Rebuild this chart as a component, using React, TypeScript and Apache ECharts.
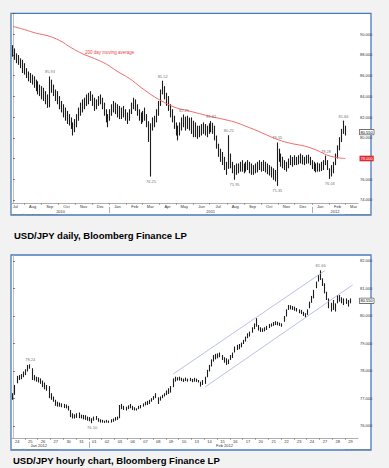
import React, { useEffect, useRef } from 'react';
import * as echarts from 'echarts';

// ---------------- Daily chart: half-week bars (high / low) from 10 Jul 2010 ----------------
const dailyHigh = [
  88.95, 88.64, 88.16, 88.0, 87.68, 87.53, 87.21, 86.73, 86.41, 86.26,
  86.1, 85.94, 85.62, 85.46, 85.14, 84.99, 84.83, 84.51, 84.19, 85.93,
  85.62, 85.14, 84.67, 84.51, 84.03, 83.56, 83.24, 82.92, 82.6, 82.29,
  81.97, 81.49, 81.81, 82.29, 82.92, 83.4, 83.71, 83.87, 84.19, 84.35,
  84.51, 84.19, 83.87, 83.71, 84.03, 84.19, 83.87, 83.4, 82.76, 82.29,
  82.76, 83.24, 83.56, 83.4, 83.24, 83.08, 82.92, 83.08, 82.76, 82.45,
  82.76, 83.4, 83.87, 83.71, 83.24, 82.76, 82.45, 82.6, 82.92, 82.29,
  81.6, 81.4, 81.97, 82.13, 82.76, 83.56, 84.67, 85.52, 84.99, 84.35,
  84.03, 83.24, 82.76, 82.13, 81.49, 81.18, 81.49, 81.97, 82.25, 82.05,
  82.13, 81.95, 81.97, 81.65, 81.49, 81.17, 81.17, 81.33, 81.49, 81.33,
  81.17, 81.4, 81.62, 81.45, 81.17, 80.22, 79.43, 78.95, 78.63, 78.16,
  77.68, 80.25, 78.48, 77.68, 77.36, 77.52, 77.52, 77.68, 77.84, 77.52,
  77.68, 77.84, 77.68, 77.52, 77.36, 77.52, 77.68, 77.84, 77.68, 77.84,
  77.68, 77.52, 77.36, 77.21, 77.05, 76.89, 79.55, 78.95, 78.48, 78.16,
  77.84, 77.68, 78.0, 78.32, 78.16, 78.32, 78.16, 78.32, 78.48, 78.32,
  78.16, 78.32, 78.38, 78.16, 77.84, 77.68, 77.52, 77.62, 77.52, 77.68,
  77.84, 78.28, 77.84, 77.05, 77.36, 77.68, 78.48, 79.27, 80.06, 80.86,
  81.66, 81.17,
];
const dailyLow = [
  87.84, 87.53, 87.21, 87.05, 86.73, 86.26, 86.1, 85.78, 85.46, 85.3,
  85.14, 84.83, 84.51, 84.19, 84.03, 83.71, 83.56, 83.24, 82.9, 82.95,
  84.35, 84.03, 83.56, 83.24, 82.76, 82.45, 81.97, 81.65, 81.33, 81.18,
  80.86, 80.22, 80.54, 81.02, 81.65, 82.13, 82.45, 82.76, 83.08, 83.24,
  83.56, 83.08, 82.6, 82.76, 83.08, 83.24, 82.76, 82.13, 81.49, 81.02,
  81.65, 82.13, 82.45, 82.29, 81.97, 81.81, 81.81, 81.97, 81.65, 81.33,
  81.65, 82.29, 82.76, 82.6, 82.13, 81.65, 81.33, 81.49, 81.65, 81.02,
  79.6, 76.25, 80.7, 81.02, 81.49, 82.13, 83.08, 84.19, 83.71, 83.08,
  82.6, 81.97, 81.49, 80.86, 80.22, 79.75, 80.22, 80.7, 81.02, 80.7,
  80.86, 80.7, 80.38, 80.06, 80.06, 79.9, 80.06, 80.22, 80.38, 80.22,
  80.06, 80.38, 80.54, 80.38, 79.75, 78.95, 78.16, 77.68, 77.36, 76.89,
  76.42, 77.0, 77.05, 76.57, 75.95, 76.42, 76.57, 76.73, 76.73, 76.57,
  76.73, 76.89, 76.57, 76.42, 76.42, 76.57, 76.66, 76.89, 76.73, 76.79,
  76.66, 76.48, 76.35, 76.16, 75.94, 75.78, 75.35, 77.68, 77.21, 77.05,
  76.89, 76.73, 77.05, 77.36, 77.21, 77.36, 77.36, 77.43, 77.52, 77.43,
  77.36, 77.49, 77.52, 77.36, 76.98, 76.79, 76.66, 76.73, 76.73, 76.79,
  76.89, 77.36, 76.89, 76.03, 76.26, 76.57, 77.36, 78.0, 78.79, 79.59,
  80.38, 80.22,
];
// 200 day moving average: [bar index, value]
const ma200: [number, number][] = [
  [0, 90.76], [6, 90.45], [12, 90.1], [18, 89.85], [24, 89.4], [30, 88.7],
  [36, 88.1], [42, 87.65], [48, 87.12], [54, 86.38], [60, 85.72], [66, 84.85],
  [72, 84.05], [78, 83.4], [84, 82.9], [90, 82.62], [96, 82.33], [102, 82.05],
  [108, 81.8], [114, 81.52], [120, 81.1], [126, 80.65], [132, 80.15], [138, 79.71],
  [144, 79.42], [150, 79.2], [156, 78.82], [162, 78.3], [168, 78.05], [171, 78.0],
];
const dailyMarks = [
  { i: 19, side: 'high' }, { i: 77, side: 'high' }, { i: 71, side: 'low' },
  { i: 88, side: 'high' }, { i: 102, side: 'high' }, { i: 111, side: 'high' },
  { i: 114, side: 'low' }, { i: 136, side: 'high' }, { i: 136, side: 'low' },
  { i: 161, side: 'high' }, { i: 163, side: 'low' }, { i: 170, side: 'high' },
];
const monthNames = ['Jan', 'Feb', 'Mar', 'Apr', 'May', 'Jun', 'Jul', 'Aug', 'Sep', 'Oct', 'Nov', 'Dec'];
const dailyYears = [2010, 2011, 2012];
const dailyYTicks = [74, 76, 78, 80, 82, 84, 86, 88, 90, 92];
const dailyYLabels = [74, 76, 80, 82, 84, 86, 88, 90];
const lastPrice = 80.55;

// ---------------- Hourly chart: 4-hour bars, 24 Jan – 29 Feb 2012 ----------------
const hourlyDays = ['24', '25', '26', '27', '30', '31', '01', '02', '03', '06', '07', '08', '09', '10',
  '13', '14', '15', '16', '17', '20', '21', '22', '23', '24', '27', '28', '29'];
const barsPerDay = 6;
const hourlyHigh = [
  77.19, 77.49, 77.82, 77.85, 77.89, 77.98, 78.06, 78.22, 78.24, 78.1,
  77.85, 77.79, 77.77, 77.73, 77.65, 77.58, 77.49, 77.45, 77.19, 77.07,
  76.95, 76.88, 76.85, 76.82, 76.8, 76.78, 76.73, 76.58, 76.46, 76.42,
  76.46, 76.49, 76.41, 76.4, 76.39, 76.34, 76.32, 76.28, 76.34, 76.36,
  76.28, 76.24, 76.22, 76.19, 76.22, 76.19, 76.24, 76.27, 76.32, 76.34,
  76.76, 76.8, 76.73, 76.7, 76.75, 76.8, 76.73, 76.68, 76.64, 76.73,
  76.76, 76.82, 76.88, 76.91, 76.95, 77.01, 77.09, 77.19, 77.04, 77.07,
  77.13, 77.19, 77.29, 77.37, 77.45, 77.73, 77.79, 77.77, 77.79, 77.75,
  77.72, 77.76, 77.72, 77.75, 77.71, 77.75, 77.72, 77.67, 77.61, 77.67,
  77.79, 78.04, 78.22, 78.42, 78.58, 78.62, 78.64, 78.67, 78.58, 78.5,
  78.46, 78.42, 78.58, 78.67, 78.89, 78.95, 78.98, 79.03, 79.13, 79.25,
  79.37, 79.43, 79.59, 79.73, 79.92, 79.67, 79.59, 79.55, 79.59, 79.64,
  79.71, 79.73, 79.78, 79.81, 79.79, 79.76, 79.73, 80.0, 80.24, 80.4,
  80.39, 80.36, 80.34, 80.29, 80.24, 80.22, 80.15, 80.1, 80.24, 80.52,
  80.73, 80.95, 81.25, 81.49, 81.66, 81.37, 81.19, 80.88, 80.64, 80.48,
  80.58, 80.46, 80.76, 80.76, 80.68, 80.64, 80.64, 80.58, 80.64,
];
const hourlyLow = [
  76.95, 77.13, 77.55, 77.67, 77.7, 77.77, 77.85, 77.98, 78.08, 77.67,
  77.65, 77.61, 77.58, 77.53, 77.41, 77.33, 77.28, 77.01, 76.95, 76.88,
  76.73, 76.7, 76.7, 76.68, 76.65, 76.64, 76.56, 76.32, 76.27, 76.27,
  76.29, 76.28, 76.27, 76.24, 76.22, 76.19, 76.17, 76.1, 76.19, 76.22,
  76.15, 76.12, 76.12, 76.11, 76.12, 76.11, 76.12, 76.15, 76.19, 76.22,
  76.28, 76.61, 76.58, 76.56, 76.61, 76.64, 76.58, 76.56, 76.56, 76.61,
  76.64, 76.7, 76.75, 76.76, 76.8, 76.88, 76.95, 77.01, 76.8, 76.92,
  77.01, 77.07, 77.12, 77.16, 77.21, 77.41, 77.61, 77.65, 77.65, 77.63,
  77.6, 77.63, 77.61, 77.63, 77.59, 77.61, 77.6, 77.58, 77.43, 77.49,
  77.53, 77.77, 77.98, 78.16, 78.34, 78.42, 78.46, 78.5, 78.4, 78.3,
  78.22, 78.25, 78.4, 78.47, 78.67, 78.76, 78.79, 78.86, 78.98, 79.07,
  79.19, 79.25, 79.39, 79.52, 79.61, 79.47, 79.42, 79.42, 79.44, 79.49,
  79.56, 79.61, 79.64, 79.67, 79.66, 79.64, 79.61, 79.79, 79.98, 80.22,
  80.24, 80.22, 80.19, 80.16, 80.1, 80.07, 80.0, 79.95, 80.04, 80.28,
  80.48, 80.64, 81.01, 81.25, 81.31, 81.09, 80.82, 80.58, 80.28, 80.16,
  80.22, 80.16, 80.46, 80.52, 80.46, 80.4, 80.44, 80.34, 80.46,
];
const channelUpper: [number, number][] = [[75, 77.89], [146, 81.65]];
const channelLower: [number, number][] = [[90, 77.42], [159, 81.13]];
const hourlyMarks = [{ j: 8, side: 'high' }, { j: 37, side: 'low' }, { j: 144, side: 'high' }];
const hourlyMonthRow = [{ day: 2, text: 'Jan 2012' }, { day: 16.5, text: 'Feb 2012' }];
const hourlyYTicks = [76, 77, 78, 79, 80, 81, 82];

const DAY_MS = 86400000;
const dailyStart = Date.UTC(2010, 6, 10);
const dailyEnd = Date.UTC(2012, 2, 24);
const dailyStep = 3.5;

const FONT = '"Liberation Sans", Arial, sans-serif';
const BAR = '#1c1c1c';

function buildOption() {
  const nDaily = Math.round((dailyEnd - dailyStart) / DAY_MS / dailyStep);
  // bar i is centred on x = i; a date maps to a fractional bar position
  const dPos = (t: number) => (t - dailyStart) / DAY_MS / dailyStep - 0.5;
  const key = (v: number) => v.toFixed(3);

  const monthLabelVals: number[] = [];
  const monthTickVals: number[] = [];
  const monthText = new Map<string, string>();
  for (let k = 0; k < 21; k++) {
    const y = 2010 + Math.floor((6 + k) / 12);
    const m = (6 + k) % 12;
    const v = dPos(Date.UTC(y, m, 16));
    monthLabelVals.push(v);
    monthText.set(key(v), monthNames[m]);
    const tv = dPos(Date.UTC(y, m, 1));
    if (tv > -0.5) monthTickVals.push(tv);
  }
  const yearLabelVals: number[] = [];
  const yearTickVals: number[] = [];
  const yearText = new Map<string, string>();
  dailyYears.forEach((y) => {
    const a = Math.max(Date.UTC(y, 0, 1), dailyStart);
    const b = Math.min(Date.UTC(y + 1, 0, 1), dailyEnd);
    const v = dPos((a + b) / 2);
    yearLabelVals.push(v);
    yearText.set(key(v), String(y));
    const tv = dPos(Date.UTC(y, 0, 1));
    if (tv > -0.5) yearTickVals.push(tv);
  });

  const nHourly = hourlyDays.length * barsPerDay;
  const dayLabelVals = hourlyDays.map((_, d) => d * barsPerDay + 2);
  const dayTickVals = hourlyDays.map((_, d) => d * barsPerDay - 0.5).filter((v) => v > 0);
  const dayText = new Map<string, string>();
  hourlyDays.forEach((s, d) => dayText.set(key(d * barsPerDay + 2), s));
  const hMonthVals = hourlyMonthRow.map((r) => Math.round(r.day * barsPerDay));
  const hMonthText = new Map<string, string>();
  hourlyMonthRow.forEach((r) => hMonthText.set(key(Math.round(r.day * barsPerDay)), r.text));
  const hMonthTick = hourlyDays.indexOf('01') * barsPerDay - 0.5;

  const smallLabel = { fontSize: 4, color: '#333', fontFamily: FONT };
  const tickStyle = { color: '#777', width: 0.6 };
  // narrow candles are drawn as single stroked high-low lines
  const candleStyle = { color: BAR, color0: BAR, borderColor: BAR, borderColor0: BAR, borderWidth: 1.1 };
  const priceBox = (v: number) => ({
    silent: true,
    symbol: ['none', 'none'],
    lineStyle: { width: 0, color: 'rgba(0,0,0,0)' },
    data: [{ yAxis: v }],
    label: {
      show: true, position: 'end', distance: 1.5, formatter: () => v.toFixed(3),
      fontSize: 4, color: '#000', backgroundColor: '#fff', borderColor: '#000', borderWidth: 0.5,
      padding: [0.5, 1], fontFamily: FONT,
    },
  });
  const xBase = (grid: number, min: number, max: number) => ({
    type: 'value', gridIndex: grid, min, max, splitLine: { show: false },
  });

  return {
    animation: false,
    backgroundColor: '#f2f2f2',
    textStyle: { fontFamily: FONT },
    grid: [
      { left: 12, right: 31, top: 13.6, bottom: 265 },
      { left: 12, right: 31, top: 255.5, bottom: 30 },
    ],
    xAxis: [
      {
        ...xBase(0, -0.5, nDaily - 0.5),
        axisLine: { show: true, onZero: false, lineStyle: { color: '#9a9a9a', width: 0.8 } },
        axisTick: { show: true, customValues: monthTickVals, length: 2, lineStyle: tickStyle },
        axisLabel: { ...smallLabel, customValues: monthLabelVals, formatter: (v: number) => monthText.get(key(v)) || '', margin: 1.5 },
      },
      {
        ...xBase(0, -0.5, nDaily - 0.5), position: 'bottom', offset: 4,
        axisLine: { show: false, onZero: false },
        axisTick: { show: true, customValues: yearTickVals, length: 6, lineStyle: tickStyle },
        axisLabel: { ...smallLabel, customValues: yearLabelVals, formatter: (v: number) => yearText.get(key(v)) || '', margin: 2 },
      },
      {
        ...xBase(1, -0.5, nHourly - 0.5),
        axisLine: { show: true, onZero: false, lineStyle: { color: '#9a9a9a', width: 0.8 } },
        axisTick: { show: true, customValues: dayTickVals, length: 2, lineStyle: tickStyle },
        axisLabel: { ...smallLabel, customValues: dayLabelVals, formatter: (v: number) => dayText.get(key(v)) || '', margin: 1.5 },
      },
      {
        ...xBase(1, -0.5, nHourly - 0.5), position: 'bottom', offset: 3.8,
        axisLine: { show: false, onZero: false },
        axisTick: { show: true, customValues: [hMonthTick], length: 6, lineStyle: tickStyle },
        axisLabel: { ...smallLabel, customValues: hMonthVals, formatter: (v: number) => hMonthText.get(key(v)) || '', margin: 2 },
      },
    ],
    yAxis: [
      {
        type: 'value', gridIndex: 0, position: 'right', min: 73.7, max: 92,
        axisLine: { show: true, lineStyle: { color: '#b0b0b0', width: 0.8 } },
        axisTick: { show: true, customValues: dailyYTicks, length: 2, lineStyle: { color: '#333', width: 0.6 } },
        axisLabel: { ...smallLabel, customValues: dailyYLabels, formatter: (v: number) => v.toFixed(3), margin: 2 },
        splitLine: { show: false },
      },
      {
        type: 'value', gridIndex: 1, position: 'right', min: 75.56, max: 82.2,
        axisLine: { show: true, lineStyle: { color: '#b0b0b0', width: 0.8 } },
        axisTick: { show: true, customValues: hourlyYTicks, length: 2, lineStyle: { color: '#333', width: 0.6 } },
        axisLabel: { ...smallLabel, customValues: hourlyYTicks, formatter: (v: number) => v.toFixed(3), margin: 2 },
        splitLine: { show: false },
      },
    ],
    series: [
      {
        type: 'candlestick', xAxisIndex: 0, yAxisIndex: 0, barWidth: 1,
        data: dailyHigh.map((h, i) => [i, dailyLow[i], h, dailyLow[i], h]),
        itemStyle: candleStyle,
        markLine: priceBox(lastPrice),
        z: 2,
      },
      {
        type: 'line', xAxisIndex: 0, yAxisIndex: 0, data: ma200, smooth: 0.4, symbol: 'none',
        lineStyle: { color: '#f25a5a', width: 0.9 }, z: 3,
        markLine: {
          silent: true, symbol: ['none', 'none'],
          lineStyle: { width: 0, color: 'rgba(0,0,0,0)' },
          data: [{ yAxis: ma200[ma200.length - 1][1] }],
          label: {
            show: true, position: 'end', distance: 1.5,
            formatter: () => ma200[ma200.length - 1][1].toFixed(3),
            fontSize: 4, color: '#fff', backgroundColor: '#e02a2a', padding: [0.8, 1], fontFamily: FONT,
          },
        },
      },
      {
        type: 'scatter', xAxisIndex: 0, yAxisIndex: 0, symbolSize: 1, silent: true, z: 4,
        itemStyle: { color: 'rgba(0,0,0,0)' },
        data: dailyMarks.map((m) => ({
          value: [m.i, m.side === 'high' ? dailyHigh[m.i] : dailyLow[m.i]],
          label: { position: m.side === 'high' ? 'top' : 'bottom' },
        })),
        label: { show: true, formatter: (p: any) => p.value[1].toFixed(2), fontSize: 4, color: '#444', distance: 2, fontFamily: FONT },
      },
      {
        type: 'candlestick', xAxisIndex: 2, yAxisIndex: 1, barWidth: 1.2,
        data: hourlyHigh.map((h, j) => [j, hourlyLow[j], h, hourlyLow[j], h]),
        itemStyle: candleStyle,
        markLine: priceBox(lastPrice),
        z: 2,
      },
      {
        type: 'line', xAxisIndex: 2, yAxisIndex: 1, data: channelUpper, symbol: 'none',
        lineStyle: { color: '#9ea2e6', width: 0.7 }, z: 3,
      },
      {
        type: 'line', xAxisIndex: 2, yAxisIndex: 1, data: channelLower, symbol: 'none',
        lineStyle: { color: '#9ea2e6', width: 0.7 }, z: 3,
      },
      {
        type: 'scatter', xAxisIndex: 2, yAxisIndex: 1, symbolSize: 1, silent: true, z: 4,
        itemStyle: { color: 'rgba(0,0,0,0)' },
        data: hourlyMarks.map((m) => ({
          value: [m.j, m.side === 'high' ? hourlyHigh[m.j] : hourlyLow[m.j]],
          label: { position: m.side === 'high' ? 'top' : 'bottom' },
        })),
        label: { show: true, formatter: (p: any) => p.value[1].toFixed(2), fontSize: 4, color: '#444', distance: 2, fontFamily: FONT },
      },
    ],
    graphic: {
      elements: [
        { type: 'rect', z: -10, shape: { x: 11, y: 13.3, width: 360, height: 201.7 }, style: { fill: '#fff', stroke: '#4a7bbd', lineWidth: 1.3 } },
        { type: 'rect', z: -10, shape: { x: 11, y: 255, width: 360, height: 195 }, style: { fill: '#fff', stroke: '#4a7bbd', lineWidth: 1.3 } },
        { type: 'text', x: 85, y: 52, style: { text: '200 day moving average', fill: '#e8464a', fontSize: 4.5, fontFamily: FONT, textVerticalAlign: 'middle' } },
        { type: 'text', x: 12.5, y: 214.2, style: { text: 'Copyright\u00a9 2012 Bloomberg Finance L.P.', fill: '#666', fontSize: 2.5, fontFamily: FONT, textVerticalAlign: 'middle' } },
        { type: 'text', x: 370, y: 214.2, style: { text: '29-Feb-2012 13:37:16', fill: '#666', fontSize: 2.5, fontFamily: FONT, textAlign: 'right', textVerticalAlign: 'middle' } },
        { type: 'text', x: 12.5, y: 449, style: { text: 'Copyright\u00a9 2012 Bloomberg Finance L.P.', fill: '#666', fontSize: 2.5, fontFamily: FONT, textVerticalAlign: 'middle' } },
        { type: 'text', x: 370, y: 449, style: { text: '29-Feb-2012 13:37:16', fill: '#666', fontSize: 2.5, fontFamily: FONT, textAlign: 'right', textVerticalAlign: 'middle' } },
        { type: 'text', x: 14, y: 235, style: { text: 'USD/JPY daily, Bloomberg Finance LP', fill: '#000', fontSize: 9.5, fontWeight: 'bold', fontFamily: FONT, textVerticalAlign: 'middle' } },
        { type: 'text', x: 13, y: 460, style: { text: 'USD/JPY hourly chart, Bloomberg Finance LP', fill: '#000', fontSize: 9.5, fontWeight: 'bold', fontFamily: FONT, textVerticalAlign: 'middle' } },
      ],
    },
  };
}

export default function App() {
  const ref = useRef<HTMLDivElement>(null);
  useEffect(() => {
    if (!ref.current) return;
    const chart = echarts.init(ref.current, null, { renderer: 'svg' });
    chart.setOption(buildOption() as any);
    return () => chart.dispose();
  }, []);
  return <div ref={ref} style={{ position: 'absolute', left: 0, top: 0, width: 389, height: 468 }} />;
}
